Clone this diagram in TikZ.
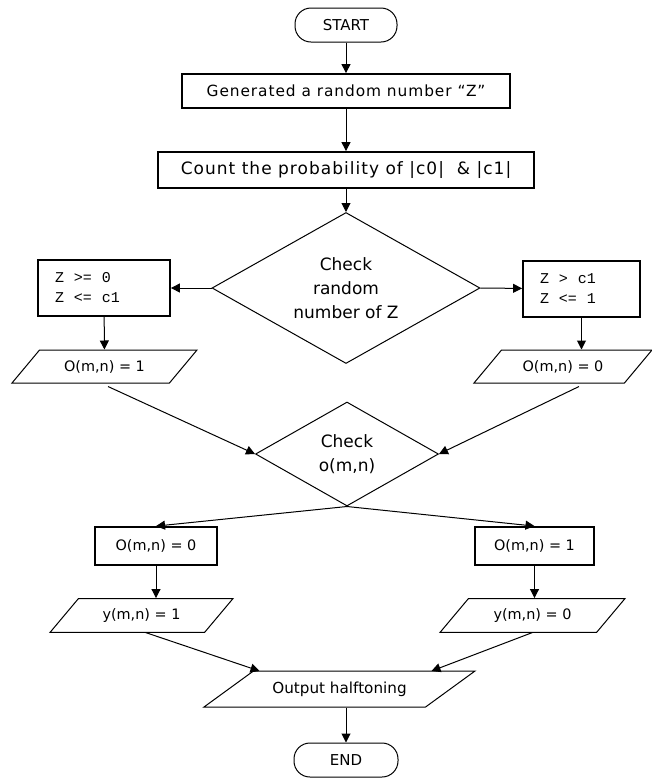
\documentclass[tikz,border=0pt]{standalone}
\usepackage{fontspec}
\setmainfont{DejaVu Sans}
\newfontfamily\boxfont{DejaVu Sans}[LetterSpace=6]
\newfontfamily\condfont{Liberation Mono}
\usetikzlibrary{shapes.geometric,arrows.meta}
\tikzset{
  term/.style={draw,line width=0.5pt,rounded corners=8pt,minimum width=51pt,minimum height=17pt,
    font=\fontsize{7.5}{9}\selectfont},
  proc/.style={draw,line width=0.9pt,minimum height=17pt,inner sep=0pt,
    font=\boxfont\fontsize{7.7}{10}\selectfont},
  cond/.style={draw,line width=0.9pt,align=left,inner xsep=8.5pt,inner ysep=0pt,minimum height=28pt,
    font=\condfont\fontsize{7.5}{10}\selectfont},
  small/.style={draw,line width=0.9pt,minimum height=19pt,inner sep=0pt,
    font=\fontsize{7.2}{9}\selectfont},
  decision/.style={draw,diamond,aspect=1.8,line width=0.5pt,align=center,inner sep=0pt,
    font=\fontsize{8.5}{12}\selectfont},
  io/.style={draw,trapezium,trapezium left angle=50,trapezium right angle=130,
    trapezium stretches body,line width=0.5pt,inner xsep=0pt,inner ysep=5pt,minimum height=16.5pt,
    font=\fontsize{7.2}{9}\selectfont}
}
\begin{document}
\begin{tikzpicture}[x=0.5pt,y=-0.5pt]
  \useasboundingbox (0,0) rectangle (652,778);
  \draw
    (346,25) node[term] (start){START}
    (346,91) node[proc,minimum width=164pt] (gen){Generated a random number “Z”}
    (346,170) node[proc,minimum width=188pt,minimum height=18pt,font=\boxfont\fontsize{8.5}{10}\selectfont] (count){Count the probability of |c0|\ \ \& |c1|}
    (346,288) node[decision,minimum width=134pt,minimum height=75.5pt] (chk1){Check\\random\\number of Z}
    (104,288) node[cond,text width=49pt] (lbox){Z\ \ >=\ \ 0\\Z\ \ <=\ \ c1}
    (581.5,289) node[cond,text width=41.5pt] (rbox){Z\ \ >\ \ c1\\Z\ \ <=\ \ 1}
    (104.5,366.5) node[io,minimum width=92.5pt] (lpar){O(m,n) = 1}
    (563,366.5) node[io,minimum width=89pt] (rpar){O(m,n) = 0}
    (347,454) node[decision,minimum width=91.5pt,minimum height=52pt] (chk2){Check\\o(m,n)}
    (156,546) node[small,minimum width=61pt] (lbox2){O(m,n) = 0}
    (534.5,546) node[small,minimum width=59.5pt] (rbox2){O(m,n) = 1}
    (141.5,615.5) node[io,minimum width=91.5pt] (lpar2){y(m,n) = 1}
    (532.5,615.5) node[io,minimum width=92.5pt] (rpar2){y(m,n) = 0}
    (339.5,689) node[io,trapezium left angle=36,trapezium right angle=144,inner ysep=5.3pt,
      minimum width=135.5pt,minimum height=18pt,font=\fontsize{7.6}{9}\selectfont] (out){Output halftoning}
    (346,760) node[term,minimum width=52pt] (stop){END};
  \begin{scope}[line width=0.5pt,-{Triangle[length=4.5pt,width=4.5pt]}]
    \draw (start) to (gen);
    \draw (gen) to (count);
    \draw (count) to (chk1);
    \draw (chk1.west) to (lbox);
    \draw (chk1.east) to (rbox);
    \draw (lbox) to (lpar);
    \draw (rbox) to (rbox |- rpar.north);
    \draw ([xshift=1.75pt,yshift=-10pt]lpar.center) to (chk2.west);
    \draw ([xshift=8pt,yshift=-10pt]rpar.center) to (chk2.east);
    \draw (chk2.south) to (lbox2.north);
    \draw (chk2.south) to (rbox2.north);
    \draw (lbox2) to (lbox2 |- lpar2.north);
    \draw (rbox2) to (rbox2 |- rpar2.north);
    \draw ([xshift=2pt,yshift=-8.5pt]lpar2.center) to ([xshift=-40pt,yshift=9pt]out.center);
    \draw ([yshift=-8.5pt]rpar2.center) to ([xshift=46pt,yshift=9pt]out.center);
    \draw (stop.north |- out.south) to (stop);
  \end{scope}
\end{tikzpicture}
\end{document}
